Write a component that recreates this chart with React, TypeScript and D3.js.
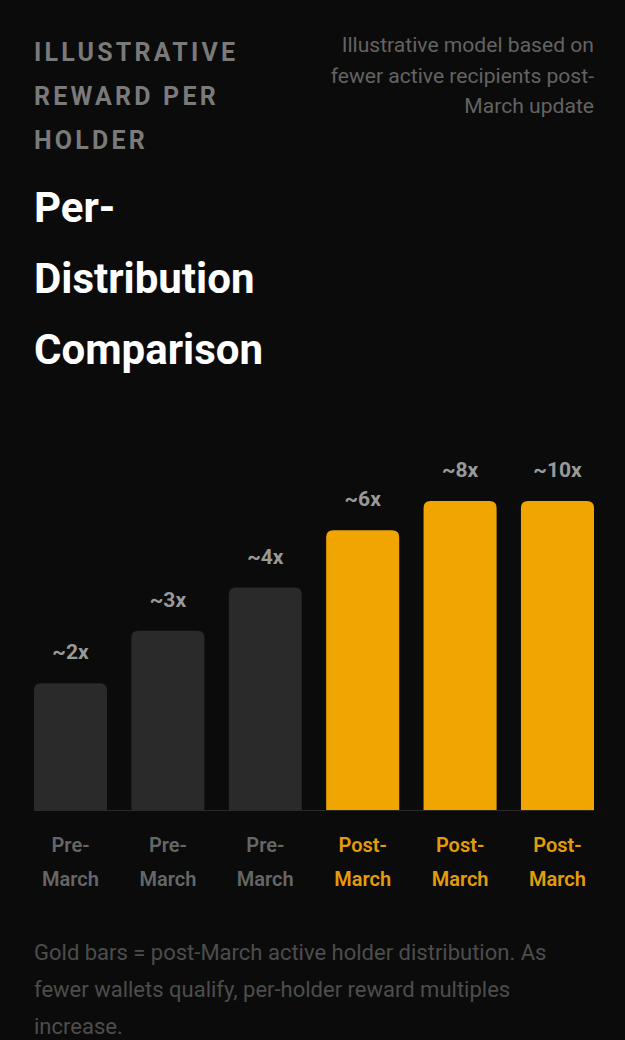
import React from "react";
import * as d3 from "d3";

// chart data
const categories = ["Pre-March", "Pre-March", "Pre-March", "Post-March", "Post-March", "Post-March"];
const multipleLabels = ["~2x", "~3x", "~4x", "~6x", "~8x", "~10x"];
const barHeights = [41, 58, 72, 90.5, 100, 100]; // relative bar height (%)
const isPost = [false, false, false, true, true, true];

const kickerLines = ["ILLUSTRATIVE", "REWARD PER", "HOLDER"];
const titleLines = ["Per-", "Distribution", "Comparison"];
const noteLines = ["Illustrative model based on", "fewer active recipients post-", "March update"];
const footLines = [
  "Gold bars = post-March active holder distribution. As",
  "fewer wallets qualify, per-holder reward multiples",
  "increase.",
];

const W = 625;
const H = 1040;
const BG = "#0b0b0b";
const GOLD = "#f0a500";
const DARK = "#2a2a2a";

// rounded top corners only
const barPath = (x: number, y: number, w: number, h: number, r: number) =>
  `M${x},${y + h}V${y + r}Q${x},${y} ${x + r},${y}H${x + w - r}Q${x + w},${y} ${x + w},${y + r}V${y + h}Z`;

const App = () => {
  const left = 34;
  const right = 594;
  const baseY = 810;
  const plotH = 309;

  const idx = categories.map((_, i) => String(i));
  const x = d3.scaleBand().domain(idx).range([left, right]).paddingInner(0.25).paddingOuter(0);
  const y = d3.scaleLinear().domain([0, 100]).range([baseY, baseY - plotH]);

  const font = "Roboto, 'Noto Sans', sans-serif";

  return (
    <div style={{ position: "absolute", left: 0, top: 0, background: BG, width: W, height: H, overflow: "hidden" }}>
      <svg width={W} height={H} style={{ display: "block", background: BG, fontFamily: font }}>
        {kickerLines.map((t, i) => (
          <text key={t} x={left} y={61 + i * 44} fill="#7a7a7a" fontSize={25} fontWeight={700} letterSpacing={3.2}>
            {t}
          </text>
        ))}
        {titleLines.map((t, i) => (
          <text key={t} x={left} y={222 + i * 71} fill="#ffffff" fontSize={42} fontWeight={700}>
            {t}
          </text>
        ))}
        {noteLines.map((t, i) => (
          <text key={t} x={right} y={52 + i * 30.5} fill="#636363" fontSize={21.1} textAnchor="end">
            {t}
          </text>
        ))}

        {barHeights.map((v, i) => {
          const bx = x(String(i)) as number;
          const bw = x.bandwidth();
          const top = y(v);
          return (
            <g key={i}>
              <path d={barPath(bx, top, bw, baseY - top, 7)} fill={isPost[i] ? GOLD : DARK} />
              <text x={bx + bw / 2} y={top - 24} fill="#999999" fontSize={21} fontWeight={700} textAnchor="middle">
                {multipleLabels[i]}
              </text>
              {categories[i].split("-").map((part, j) => (
                <text
                  key={j}
                  x={bx + bw / 2}
                  y={852 + j * 34}
                  fill={isPost[i] ? "#e39d0a" : "#666666"}
                  fontSize={20}
                  fontWeight={600}
                  textAnchor="middle"
                >
                  {j === 0 ? part + "-" : part}
                </text>
              ))}
            </g>
          );
        })}
        <line x1={left} x2={right} y1={baseY + 0.5} y2={baseY + 0.5} stroke="#2a2a2a" strokeWidth={1} />

        {footLines.map((t, i) => (
          <text key={t} x={left} y={960 + i * 37} fill="#4d4d4d" fontSize={22}>
            {t}
          </text>
        ))}
      </svg>
    </div>
  );
};

export default App;
